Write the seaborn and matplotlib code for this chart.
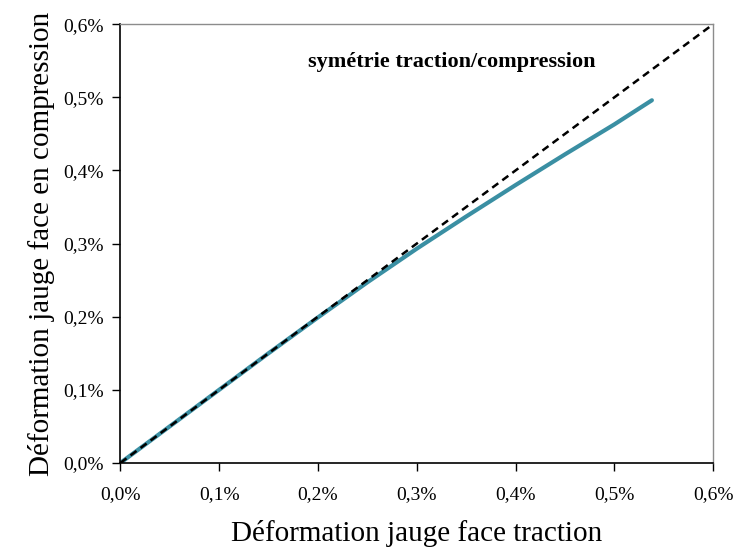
import matplotlib.pyplot as plt
import matplotlib.ticker as mticker
import seaborn as sns
import pandas as pd

# Déformations (en %)
traction = [0.0, 0.05, 0.10, 0.15, 0.20, 0.25, 0.30, 0.35, 0.40, 0.45, 0.50, 0.538]
compression = [0.0, 0.05, 0.10, 0.15, 0.199, 0.247, 0.293, 0.337, 0.380, 0.422, 0.463, 0.496]
symetrie = [0.0, 0.6]
ticks = [0.0, 0.1, 0.2, 0.3, 0.4, 0.5, 0.6]

sns.set_theme(style='white', rc={'text.color': 'black', 'axes.labelcolor': 'black',
                                 'xtick.color': 'black', 'ytick.color': 'black'})
plt.rcParams['font.family'] = ['Liberation Serif', 'DejaVu Serif']

df = pd.DataFrame({'traction': traction, 'compression': compression})
df_sym = pd.DataFrame({'x': symetrie, 'y': symetrie})

fig, ax = plt.subplots(figsize=(7.39, 5.51), dpi=100)

sns.lineplot(data=df_sym, x='x', y='y', ax=ax, color='black', lw=1.8,
             linestyle=(0, (3, 2)), zorder=3)
sns.lineplot(data=df, x='traction', y='compression', ax=ax, color='#3a8fa3',
             lw=3, zorder=2)

ax.set_xlim(0, 0.6)
ax.set_ylim(0, 0.6)
ax.set_xticks(ticks)
ax.set_yticks(ticks)
fmt = mticker.FuncFormatter(lambda v, p: f'{v:.1f}%'.replace('.', ','))
ax.xaxis.set_major_formatter(fmt)
ax.yaxis.set_major_formatter(fmt)
ax.tick_params(axis='both', direction='out', length=6, width=1, color='black',
               labelsize=14, bottom=True, left=True)
ax.tick_params(axis='x', pad=11)
ax.tick_params(axis='y', pad=6)

for s in ['left', 'bottom']:
    ax.spines[s].set_color('black')
    ax.spines[s].set_linewidth(1.2)
for s in ['top', 'right']:
    ax.spines[s].set_color('#8c8c8c')
    ax.spines[s].set_linewidth(1)

ax.set_xlabel('Déformation jauge face traction', fontsize=21, labelpad=12)
ax.set_ylabel('Déformation jauge face en compression', fontsize=21, labelpad=6)

ax.text(0.19, 0.548, 'symétrie traction/compression', fontsize=16,
        fontweight='bold', ha='left', va='center')

fig.subplots_adjust(left=0.163, right=0.965, top=0.956, bottom=0.16)
fig.savefig('out.png', dpi=100)
